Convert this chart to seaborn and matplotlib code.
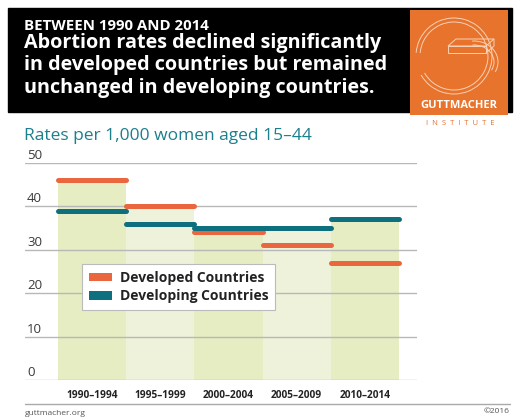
import matplotlib
matplotlib.use("Agg")
import matplotlib.pyplot as plt
import matplotlib.transforms as mtransforms
from matplotlib.patches import Rectangle, Patch, Arc, Polygon
import numpy as np
import pandas as pd
import seaborn as sns

# ---- data ----
periods = ["1990–1994", "1995–1999", "2000–2004", "2005–2009", "2010–2014"]
developed = [46, 40, 34, 31, 27]
developing = [39, 36, 35, 35, 37]
y_ticks = [0, 10, 20, 30, 40, 50]
series_names = ["Developed Countries", "Developing Countries"]

# ---- styles ----
ORANGE = "#e9663f"
TEAL = "#0e6f7e"
GREEN_DARK = "#e6edc3"
GREEN_LIGHT = "#eef2da"
LOGO = "#e8732d"
FONT = "Open Sans"

W, H = 519, 417
sns.set_theme(style="white")
plt.rcParams["font.family"] = [FONT, "DejaVu Sans"]

fig = plt.figure(figsize=(W / 100, H / 100), dpi=100)

def fx(px):
    return px / W

def fy(py):
    return 1 - py / H

# ---- header ----
fig.patches.append(Rectangle((fx(8), fy(112)), fx(512 - 8), (112 - 8) / H,
                             transform=fig.transFigure, color="black", zorder=0))
fig.text(fx(24), fy(30), "BETWEEN 1990 AND 2014", color="white", fontsize=10.8,
         fontweight="bold", va="baseline", ha="left")
title_lines = ["Abortion rates declined significantly",
               "in developed countries but remained",
               "unchanged in developing countries."]
for i, line in enumerate(title_lines):
    fig.text(fx(24), fy(48 + 22.3 * i), line, color="white", fontsize=14.2,
             fontweight="bold", va="baseline", ha="left")

# logo
lax = fig.add_axes([fx(410), fy(115), fx(98), 105 / H], zorder=3)
lax.set_facecolor(LOGO)
lax.set_xlim(0, 98)
lax.set_ylim(105, 0)
lax.set_xticks([])
lax.set_yticks([])
for s in lax.spines.values():
    s.set_visible(False)
lc = "#f7d2b5"
for r in (34, 38):
    lax.add_patch(Arc((44, 46), 2 * r, 2 * r, theta1=-175, theta2=150, color=lc, lw=0.7))
lax.add_patch(Polygon([[38, 36], [76, 36], [84, 29], [46, 29]], closed=True, fill=False,
                      edgecolor=lc, lw=0.7))
lax.add_patch(Polygon([[38, 36], [38, 43], [76, 43], [76, 36]], closed=True, fill=False,
                      edgecolor=lc, lw=0.7))
lax.plot([76, 84, 84], [43, 36, 29], color=lc, lw=0.7)
lax.add_patch(Arc((64, 52), 40, 34, theta1=-95, theta2=25, color=lc, lw=0.7))
lax.add_patch(Arc((64, 52), 48, 42, theta1=-95, theta2=25, color=lc, lw=0.7))
lax.text(49, 98, "GUTTMACHER", color="white", fontsize=8.0, fontweight="bold",
         ha="center", va="baseline")
fig.text(fx(460), fy(125), "I  N  S  T  I  T  U  T  E", color=LOGO, fontsize=5.5,
         ha="center", va="baseline")

# subtitle
fig.text(fx(24), fy(140), "Rates per 1,000 women aged 15–44", color="#1c7f8c",
         fontsize=12.5, va="baseline", ha="left")

# ---- chart ----
ax_left, ax_right, ax_top, ax_bottom = 25, 417, 163, 380
ax = fig.add_axes([fx(ax_left), fy(ax_bottom), fx(ax_right - ax_left),
                   (ax_bottom - ax_top) / H])

df = pd.DataFrame({"period": periods, "developed": developed, "developing": developing})
df["height"] = df[["developed", "developing"]].max(axis=1)

sns.barplot(data=df, x="period", y="height", hue="period",
            palette=[GREEN_DARK, GREEN_LIGHT, GREEN_DARK, GREEN_LIGHT, GREEN_DARK],
            width=1.0, saturation=1, legend=False, ax=ax, zorder=1, linewidth=0)

unit = (399 - 58) / 5.0
x0 = -0.5 - (58 - ax_left) / unit
ax.set_xlim(x0, x0 + (ax_right - ax_left) / unit)
ax.set_ylim(0, 50)

xs = np.arange(len(periods))
lw = 5 * 72 / 100
l1 = ax.hlines(df["developed"], xs - 0.5, xs + 0.5, color=ORANGE, lw=lw, zorder=4,
               clip_on=False)
l2 = ax.hlines(df["developing"], xs - 0.5, xs + 0.5, color=TEAL, lw=lw, zorder=4,
               clip_on=False)
for l in (l1, l2):
    l.set_capstyle("round")

ax.set_yticks(y_ticks)
ax.yaxis.grid(True, color="#b8b8b8", lw=1)
ax.set_axisbelow(False)
for gl in ax.get_ygridlines():
    gl.set_zorder(2)
ax.tick_params(axis="y", left=False, labelleft=False)
for s in ax.spines.values():
    s.set_visible(False)

ytr = mtransforms.offset_copy(ax.get_yaxis_transform(), fig=fig, x=0, y=4, units="dots")
for t in y_ticks:
    ax.text(2 / (ax_right - ax_left), t, str(t), transform=ytr, fontsize=9.5,
            color="#3a3a3a", ha="left", va="baseline")

ax.set_xticks(xs)
ax.set_xticklabels(periods, fontsize=7.3, fontweight="bold", color="#222222",
                   family=["Open Sans", "DejaVu Sans"])
ax.tick_params(axis="x", bottom=False, pad=1.5)
ax.set_xlabel("")
ax.set_ylabel("")

# legend
handles = [Patch(facecolor=ORANGE, edgecolor="none"), Patch(facecolor=TEAL, edgecolor="none")]
leg = fig.legend(handles, series_names, loc="upper left",
                 bbox_to_anchor=(fx(82), fy(264)), borderaxespad=0, frameon=True,
                 fancybox=False, edgecolor="#bbbbbb", framealpha=1, borderpad=0.5,
                 handlelength=1.65, handleheight=0.6, handletextpad=0.55,
                 labelspacing=0.32,
                 prop={"family": FONT, "weight": "bold", "size": 10})
leg.get_frame().set_linewidth(0.8)
for t in leg.get_texts():
    t.set_color("#222222")

# footer
fig.add_artist(plt.Line2D([fx(25), fx(510)], [fy(404), fy(404)], color="#aaaaaa", lw=1,
                          transform=fig.transFigure))
fig.text(fx(25), fy(415), "guttmacher.org", fontsize=6, color="#555555", ha="left",
         va="baseline")
fig.text(fx(510), fy(413), "©2016", fontsize=6, color="#555555", ha="right", va="baseline")

fig.savefig("out.png", dpi=100)
